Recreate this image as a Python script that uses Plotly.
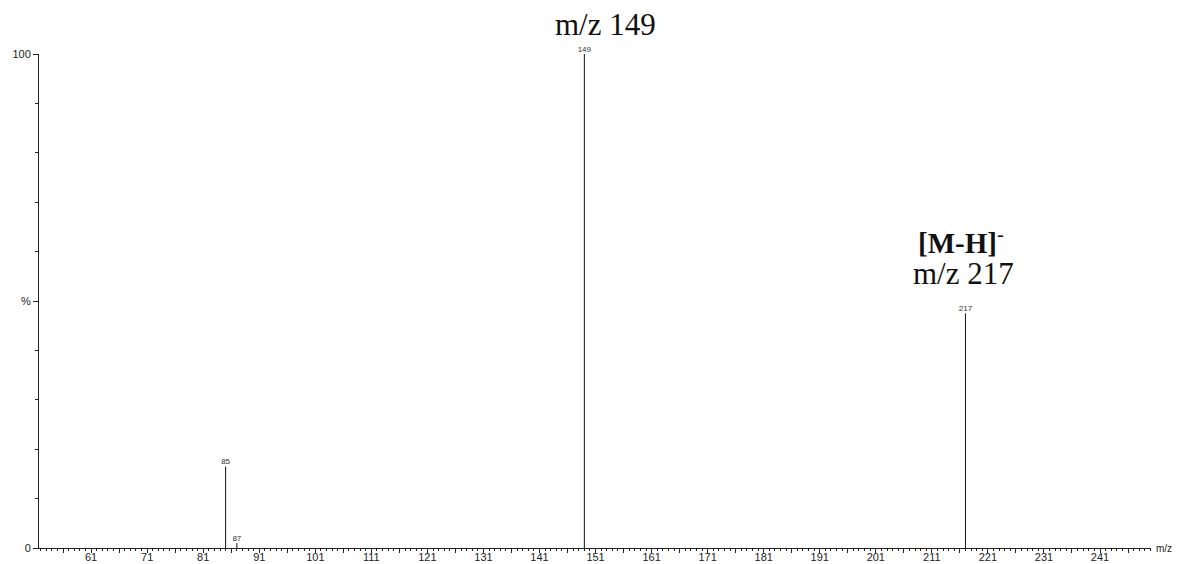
import plotly.graph_objects as go

# Data
mz = [85, 87, 149, 217]
intensity = [16.5, 1.0, 100.0, 47.5]
peak_labels = ["85", "87", "149", "217"]

x_range = [51.7, 250.1]
x_tickvals = list(range(61, 250, 10))
x_ticktext = [str(v) for v in x_tickvals]
x_midticks = list(range(56, 250, 10))
y_tickvals = [0, 50, 100]
y_ticktext = ["0", "%", "100"]

# stick spectrum: vertical segments
xs, ys = [], []
for m, i in zip(mz, intensity):
    xs += [m, m, None]
    ys += [0, i, None]

fig = go.Figure()
fig.add_trace(go.Scatter(x=xs, y=ys, mode="lines",
                         line=dict(color="#111111", width=1),
                         hoverinfo="skip", showlegend=False))
fig.add_trace(go.Scatter(x=mz, y=intensity, mode="text", text=peak_labels,
                         textposition="top center",
                         textfont=dict(family="Liberation Sans", size=8, color="#333333"),
                         showlegend=False, cliponaxis=False))

axis_col = "#222222"
fig.update_layout(
    width=1179, height=564,
    margin=dict(l=39, r=28, t=54, b=16, autoexpand=False),
    paper_bgcolor="white", plot_bgcolor="white",
    font=dict(family="Liberation Sans", color=axis_col),
    xaxis=dict(range=x_range, showgrid=False, zeroline=False, automargin=False,
               showline=True, linecolor=axis_col, linewidth=1,
               ticks="outside", ticklen=4, tickcolor=axis_col,
               tickvals=x_tickvals, ticktext=x_ticktext,
               tickfont=dict(size=11, color=axis_col), ticklabelstandoff=-5,
               minor=dict(dtick=1, tick0=0, ticks="outside", ticklen=2, tickcolor=axis_col),
               ),
    xaxis2=dict(range=x_range, overlaying="x", side="bottom", anchor="y",
                showgrid=False, zeroline=False, automargin=False, showline=False,
                ticks="outside", ticklen=4, tickcolor=axis_col,
                tickvals=x_midticks, showticklabels=False),
    yaxis=dict(range=[0, 100], showgrid=False, zeroline=False, automargin=False,
               showline=True, linecolor=axis_col, linewidth=1,
               ticks="outside", ticklen=5, tickcolor=axis_col,
               tickvals=y_tickvals, ticktext=y_ticktext,
               tickfont=dict(size=11, color=axis_col),
               minor=dict(dtick=10, tick0=0, ticks="outside", ticklen=3, tickcolor=axis_col),
               ),
    annotations=[
        dict(text="m/z 149", x=149, y=100, xref="x", yref="y", xanchor="center",
             yanchor="bottom", yshift=10, xshift=21, showarrow=False,
             font=dict(family="Liberation Serif", size=31, color="#111111")),
        dict(text="<b>[M-H]</b><sup>-</sup>", x=217, y=47.5, xref="x", yref="y",
             xanchor="center", yanchor="bottom", yshift=52, xshift=-4, showarrow=False,
             font=dict(family="Liberation Serif", size=29, color="#111111")),
        dict(text="m/z 217", x=217, y=47.5, xref="x", yref="y", xanchor="center",
             yanchor="bottom", yshift=20, xshift=-2, showarrow=False,
             font=dict(family="Liberation Serif", size=31, color="#111111")),
        dict(text="m/z", x=1, y=0, xref="paper", yref="y", xanchor="left",
             yanchor="middle", xshift=3, showarrow=False,
             font=dict(family="Liberation Sans", size=10, color=axis_col)),
    ],
)
# invisible trace to activate the mid-tick axis
fig.add_trace(go.Scatter(x=[x_range[0]], y=[0], xaxis="x2", mode="markers",
                         marker=dict(opacity=0), hoverinfo="skip", showlegend=False))

fig.write_html("out.html", config={"displayModeBar": False},
               post_script="document.body.style.margin='0';document.body.style.padding='0';")
